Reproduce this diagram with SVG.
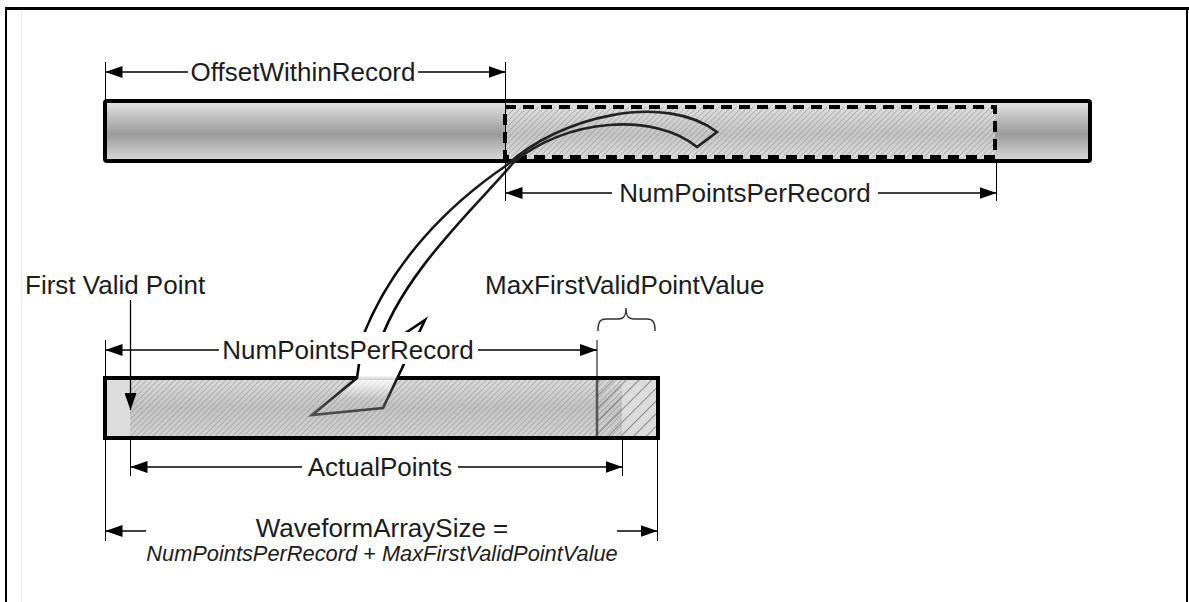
<svg xmlns="http://www.w3.org/2000/svg" width="1189" height="602" viewBox="0 0 1189 602">
<style>
.t{font-family:"Liberation Sans",Arial,sans-serif;font-size:26px;fill:#1c1c1c}
.ti{font-family:"Liberation Sans",Arial,sans-serif;font-size:21.8px;font-style:italic;fill:#1c1c1c}
.dim{stroke:#000;stroke-width:1.3;fill:none}
.ext{stroke:#000;stroke-width:1;fill:none}
.bar{fill:none;stroke:#000;stroke-width:4}
</style>
<defs>
<marker id="ah" viewBox="0 0 17 12" markerWidth="17" markerHeight="12" refX="17" refY="6" orient="auto" markerUnits="userSpaceOnUse">
<path d="M0,0 L17,6 L0,12 z" fill="#000"/>
</marker>
<linearGradient id="barGrad" x1="0" y1="0" x2="0" y2="1">
<stop offset="0" stop-color="#e6e6e6"/>
<stop offset="0.55" stop-color="#9a9a9a"/>
<stop offset="1" stop-color="#dadada"/>
</linearGradient>
<linearGradient id="lowGrad" x1="0" y1="0" x2="0" y2="1">
<stop offset="0" stop-color="#dcdcdc"/>
<stop offset="0.5" stop-color="#c4c4c4"/>
<stop offset="1" stop-color="#d4d4d4"/>
</linearGradient>
<pattern id="hatch" patternUnits="userSpaceOnUse" width="4" height="4" patternTransform="rotate(45)">
<line x1="0" y1="0" x2="0" y2="4" stroke="#8a8a8a" stroke-width="1"/>
</pattern>
<pattern id="hatchC" patternUnits="userSpaceOnUse" width="9" height="9" patternTransform="rotate(45)">
<line x1="0" y1="0" x2="0" y2="9" stroke="#555" stroke-width="1.2"/>
</pattern>
<linearGradient id="fade" gradientUnits="userSpaceOnUse" x1="0" y1="150" x2="0" y2="420">
<stop offset="0.03" stop-color="#fff" stop-opacity="0"/>
<stop offset="0.07" stop-color="#fff" stop-opacity="1"/>
<stop offset="0.835" stop-color="#fff" stop-opacity="1"/>
<stop offset="0.92" stop-color="#fff" stop-opacity="0"/>
</linearGradient>
<linearGradient id="fadeStroke" gradientUnits="userSpaceOnUse" x1="0" y1="150" x2="0" y2="420">
<stop offset="0" stop-color="#222"/>
<stop offset="0.8" stop-color="#000"/>
<stop offset="1" stop-color="#555"/>
</linearGradient>
</defs>

<rect width="1189" height="602" fill="#fff"/>

<g id="frame">
<line x1="5" y1="8.5" x2="1189" y2="8.5" stroke="#000" stroke-width="3"/>
<line x1="6" y1="7" x2="6" y2="602" stroke="#000" stroke-width="2"/>
<line x1="1187" y1="7" x2="1187" y2="602" stroke="#000" stroke-width="2"/>
<line x1="21.5" y1="10" x2="21.5" y2="602" stroke="#ececec" stroke-width="1"/>
</g>

<g id="top-bar">
<rect x="105" y="101" width="985" height="60" rx="2" fill="url(#barGrad)"/>
<rect x="505" y="107" width="490" height="50" fill="#e2e2e2" fill-opacity="0.6"/>
<rect x="505" y="107" width="490" height="50" fill="url(#hatch)"/>
<rect x="105" y="101" width="985" height="60" rx="2" class="bar"/>
<rect id="record-window" x="505" y="107" width="490" height="50" fill="none" stroke="#000" stroke-width="4" stroke-dasharray="11 7"/>
</g>

<g id="lower-bar">
<rect x="105" y="378" width="553" height="60" fill="#dcdcdc"/>
<rect x="130" y="378" width="492" height="60" fill="url(#lowGrad)"/>
<rect x="130" y="378" width="492" height="60" fill="url(#hatch)"/>
<rect x="597" y="378" width="61" height="60" fill="url(#hatchC)"/>
<line x1="597" y1="378" x2="597" y2="438" stroke="#555" stroke-width="2.5"/>
<rect x="105" y="378" width="553" height="60" class="bar"/>
</g>

<g id="curved-arrow">
<path d="M507,165 C560,116 665,92 717,132 L697,147 C655,112 565,118 513,163 C485,198 398,275 377,352 L425,320 L383,408 L312,415 L357,378 L363,336 C392,262 448,205 507,165 Z" fill="url(#fade)" stroke="url(#fadeStroke)" stroke-width="2.6" stroke-linejoin="miter"/>
</g>

<g id="connectors">
<line class="ext" x1="105.5" y1="62" x2="105.5" y2="101"/>
<line class="ext" x1="505.5" y1="62" x2="505.5" y2="201"/>
<line class="ext" x1="996.5" y1="159" x2="996.5" y2="201"/>
<line class="ext" x1="105.5" y1="340" x2="105.5" y2="378"/>
<line class="ext" x1="597" y1="340" x2="597" y2="378"/>
<line class="ext" x1="130.5" y1="438" x2="130.5" y2="476"/>
<line class="ext" x1="622.5" y1="438" x2="622.5" y2="476"/>
<line class="ext" x1="105.5" y1="438" x2="105.5" y2="541"/>
<line class="ext" x1="657.5" y1="438" x2="657.5" y2="541"/>
<line class="dim" x1="188" y1="72" x2="105.5" y2="72" marker-end="url(#ah)"/>
<line class="dim" x1="418" y1="72" x2="505.5" y2="72" marker-end="url(#ah)"/>
<line class="dim" x1="612" y1="193" x2="505.5" y2="193" marker-end="url(#ah)"/>
<line class="dim" x1="878" y1="193" x2="996.5" y2="193" marker-end="url(#ah)"/>
<line class="dim" x1="219" y1="350" x2="105.5" y2="350" marker-end="url(#ah)"/>
<line class="dim" x1="478" y1="350" x2="597" y2="350" marker-end="url(#ah)"/>
<line class="dim" x1="302" y1="467" x2="130.5" y2="467" marker-end="url(#ah)"/>
<line class="dim" x1="458" y1="467" x2="622.5" y2="467" marker-end="url(#ah)"/>
<line class="dim" x1="146" y1="531" x2="105.5" y2="531" marker-end="url(#ah)"/>
<line class="dim" x1="617" y1="531" x2="657.5" y2="531" marker-end="url(#ah)"/>
<line class="dim" x1="130.5" y1="300" x2="130.5" y2="410" marker-end="url(#ah)"/>
<path d="M598,331 C598,322 600,319 606,319 L619,319 C624,319 626,316 626,308 C626,316 628,319 633,319 L647,319 C653,319 655,322 655,331" fill="none" stroke="#333" stroke-width="1.5"/>
</g>

<g id="label-offset">
<text class="t" x="303" y="81" text-anchor="middle">OffsetWithinRecord</text>
</g>
<g id="label-top-numpoints">
<text class="t" x="745" y="202" text-anchor="middle">NumPointsPerRecord</text>
</g>
<g id="label-first-valid">
<text class="t" x="25" y="294">First Valid Point</text>
</g>
<g id="label-maxfirst">
<text class="t" x="485" y="294">MaxFirstValidPointValue</text>
</g>
<g id="label-low-numpoints">
<rect x="220" y="332" width="257" height="32" fill="#fff"/>
<text class="t" x="348" y="359" text-anchor="middle">NumPointsPerRecord</text>
</g>
<g id="label-actual">
<text class="t" x="380" y="476" text-anchor="middle">ActualPoints</text>
</g>
<g id="label-waveform">
<text class="t" x="382" y="537" text-anchor="middle">WaveformArraySize =</text>
<text class="ti" x="382" y="561" text-anchor="middle">NumPointsPerRecord + MaxFirstValidPointValue</text>
</g>
</svg>
